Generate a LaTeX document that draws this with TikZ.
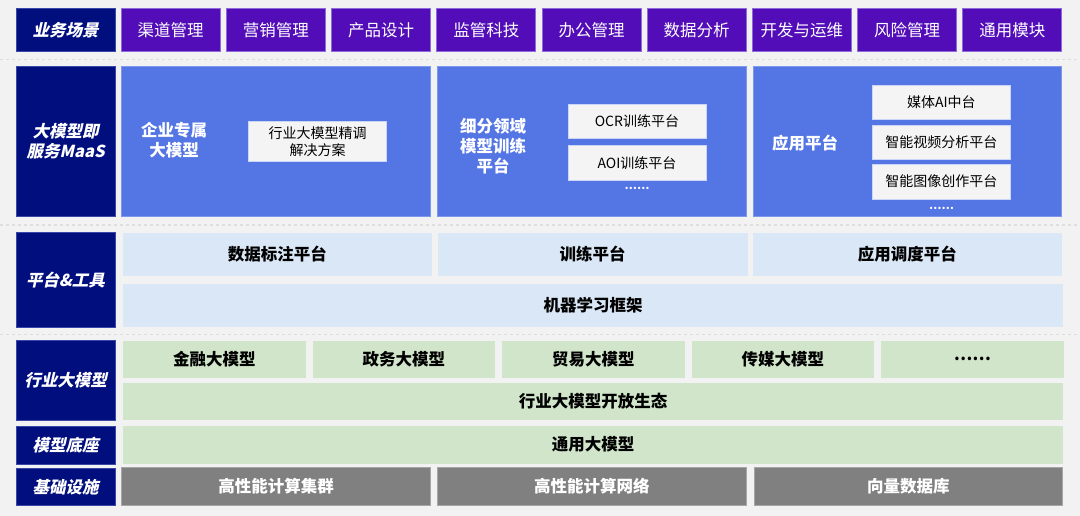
\documentclass[tikz,border=0pt]{standalone}
\usepackage{fontspec}
\setmainfont{Noto Sans CJK SC}
\newfontfamily\labfont{Noto Sans CJK SC}[FakeSlant=0.22, BoldFeatures={FakeSlant=0.22}]
\definecolor{bgc}{HTML}{F2F2F2}
\definecolor{navy}{HTML}{000E7E}
\definecolor{navyb}{HTML}{3A47A8}
\definecolor{purp}{HTML}{520DB8}
\definecolor{purpb}{HTML}{8E6BDB}
\definecolor{maasc}{HTML}{5476E5}
\definecolor{maasb}{HTML}{7E96EC}
\definecolor{wbox}{HTML}{F4F4F4}
\definecolor{lblue}{HTML}{DAE7F6}
\definecolor{lgreen}{HTML}{D0E5CA}
\definecolor{grayc}{HTML}{808080}
\definecolor{grayb}{HTML}{A6A6A6}
\definecolor{sepc}{HTML}{DEDEDE}
\newcommand\bx[7]{\node[#2, minimum width={(#5)-(#3)}, minimum height={(#6)-(#4)}] (#1) at ({((#3)+(#5))/2},{((#4)+(#6))/2}) {#7};}
\begin{document}
\begin{tikzpicture}[x=1pt,y=-1pt,
  base/.style={rectangle, inner sep=0pt, outer sep=0pt, align=center, line width=0.8pt},
  lbl/.style={base, fill=navy, draw=navyb, text=white, font=\labfont\bfseries\fontsize{16.5}{19.5}\selectfont},
  biz/.style={base, fill=purp, draw=purpb, text=white, font=\fontsize{16.5}{19.5}\selectfont},
  maas/.style={base, fill=maasc, draw=maasb},
  mtitle/.style={text=white, align=center, inner sep=0pt, font=\bfseries\fontsize{16.5}{20}\selectfont},
  wb/.style={base, fill=wbox, draw=maasb!40!white, text=black, font=\fontsize{14}{16.7}\selectfont},
  mdots/.style={text=white, inner sep=0pt, font=\bfseries\fontsize{11}{12}\selectfont},
  plat/.style={base, fill=lblue, text=black, font=\bfseries\fontsize{16.5}{19.5}\selectfont},
  grn/.style={base, fill=lgreen, text=black, font=\bfseries\fontsize{16.5}{19.5}\selectfont},
  gry/.style={base, fill=grayc, draw=grayb, text=white, font=\bfseries\fontsize{16.5}{19.5}\selectfont},
  sepline/.style={sepc, line width=1.2pt, dash pattern=on 3pt off 3pt}]
\fill[bgc] (0,0) rectangle (1080,516);
\useasboundingbox (0,0) rectangle (1080,516);
% separators
\coordinate (s1a) at (0,59.5); \coordinate (s1b) at (1080,59.5);
\coordinate (s2a) at (0,225); \coordinate (s2b) at (1080,225);
\coordinate (s3a) at (0,334.5); \coordinate (s3b) at (1080,334.5);
\draw[sepline] (s1a) -- (s1b);
\draw[sepline] (s2a) -- (s2b);
\draw[sepline] (s3a) -- (s3b);
% row 1
\bx{l1}{lbl}{16.2}{8.3}{115}{51.7}{业务场景}
\foreach \t [count=\i from 0] in {渠道管理,营销管理,产品设计,监管科技,办公管理,数据分析,开发与运维,风险管理,通用模块}{
  \pgfmathsetmacro\xa{121.2+\i*105.2}
  \pgfmathsetmacro\xb{\xa+99}
  \bx{b\i}{biz}{\xa}{8.3}{\xb}{51.7}{\t}
}
% row 2 MaaS
\bx{l2}{lbl}{16.2}{66}{115}{216.7}{大模型即\\服务MaaS}
\bx{m1}{maas}{121.2}{66}{430.5}{216.7}{}
\bx{m2}{maas}{436.9}{66}{746.7}{216.7}{}
\bx{m3}{maas}{752.9}{66}{1061.8}{216.7}{}
\node[mtitle] (t1) at (174,140) {企业专属\\大模型};
\bx{w1}{wb}{248.6}{121.7}{386.7}{161.7}{行业大模型精调\\解决方案}
\node[mtitle] (t2) at (493,146.5) {细分领域\\模型训练\\平台};
\bx{w2}{wb}{567.9}{104}{706}{138.3}{OCR训练平台}
\bx{w3}{wb}{567.9}{145.7}{706}{180}{AOI训练平台}
\node[mdots] (d1) at (637,188) {……};
\node[mtitle] (t3) at (805,142.7) {应用平台};
\bx{w4}{wb}{872.3}{85.3}{1010.4}{119.3}{媒体AI中台}
\bx{w5}{wb}{872.3}{125}{1010.4}{159.3}{智能视频分析平台}
\bx{w6}{wb}{872.3}{164.3}{1010.4}{199}{智能图像创作平台}
\node[mdots] (d2) at (941.5,208) {……};
% row 3 platform
\bx{l3}{lbl}{16.2}{232.3}{115}{327}{平台\&工具}
\bx{p1}{plat}{123}{233.3}{431.8}{275.7}{数据标注平台}
\bx{p2}{plat}{437.7}{233.3}{747.6}{275.7}{训练平台}
\bx{p3}{plat}{752.5}{233.3}{1062}{275.7}{应用调度平台}
\bx{p4}{plat}{123}{284.3}{1063}{326.7}{机器学习框架}
% row 4 industry
\bx{l4}{lbl}{16.2}{340.3}{115}{420.3}{行业大模型}
\foreach \t [count=\i from 0] in {金融大模型,政务大模型,贸易大模型,传媒大模型,……}{
  \pgfmathsetmacro\xa{123+\i*189.5}
  \pgfmathsetmacro\xb{\xa+182.8}
  \bx{g\i}{grn}{\xa}{340.5}{\xb}{377.7}{\t}
}
\bx{g5}{grn}{123}{383.3}{1063}{420}{行业大模型开放生态}
% row 5
\bx{l5}{lbl}{16.2}{426.7}{115}{464}{模型底座}
\bx{g6}{grn}{123}{426}{1063}{463.5}{通用大模型}
% row 6
\bx{l6}{lbl}{16.2}{468.3}{115}{505.3}{基础设施}
\bx{k1}{gry}{121.6}{467.7}{430.5}{505.3}{高性能计算集群}
\bx{k2}{gry}{437}{467.7}{746.5}{505.3}{高性能计算网络}
\bx{k3}{gry}{754}{467.7}{1062.7}{505.3}{向量数据库}
\end{tikzpicture}
\end{document}
